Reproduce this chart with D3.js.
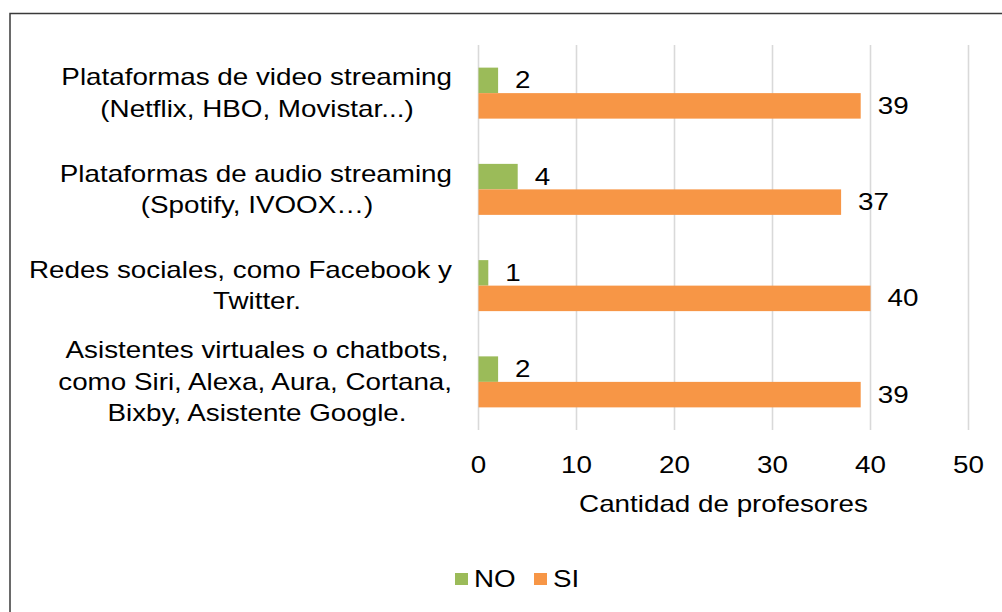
<!DOCTYPE html>
<html>
<head>
<meta charset="utf-8">
<script src="https://cdn.jsdelivr.net/npm/d3@7"></script>
<style>
  body { margin: 0; background: #fff; }
  svg { display: block; }
  text { font-family: "Liberation Sans", Arial, sans-serif; fill: #000; }
</style>
</head>
<body>
<div id="chart"></div>
<script>
// categories (each label split into its lines) and values per series
var categories = [
    ["Plataformas de video streaming", "(Netflix, HBO, Movistar...)"],
    ["Plataformas de audio streaming", "(Spotify, IVOOX…)"],
    ["Redes sociales, como Facebook y", "Twitter."],
    ["Asistentes virtuales o chatbots,", "como Siri, Alexa, Aura, Cortana,", "Bixby, Asistente Google."]
];
var series = ["NO", "SI"];
var noValues = [2, 4, 1, 2];
var siValues = [39, 37, 40, 39];
var xTicks = [0, 10, 20, 30, 40, 50];
var axisTitle = "Cantidad de profesores";

var colors = { NO: "#9BBB59", SI: "#F79646" };

var width = 1002, height = 612;
var fs = 23;       // font size
var sx = 1.208;    // the picture is stretched sideways

var svg = d3.select("#chart").append("svg")
    .attr("width", width)
    .attr("height", height);

// outer frame
svg.append("rect")
    .attr("x", 10).attr("y", 13.5)
    .attr("width", 1200).attr("height", 800)
    .attr("fill", "none")
    .attr("stroke", "#3a3a3a")
    .attr("stroke-width", 1.5);

var xScale = d3.scaleLinear().domain([0, 50]).range([478.5, 968.5]);
var yScale = d3.scaleBand().domain(d3.range(categories.length)).range([45, 430]);
var inner = d3.scaleBand().domain(series).range([0, 51]);
var off = (yScale.bandwidth() - 51) / 2;

// put a stretched text at x,y
function label(g, str, x, y, anchor) {
    return g.append("text")
        .attr("transform", "translate(" + x + "," + y + ") scale(" + sx + ",1)")
        .attr("text-anchor", anchor || "start")
        .attr("font-size", fs)
        .text(str);
}

// gridlines
svg.append("g").selectAll("line")
    .data(xTicks)
    .join("line")
    .attr("x1", d => xScale(d)).attr("x2", d => xScale(d))
    .attr("y1", 45).attr("y2", 430)
    .attr("stroke", "#D9D9D9")
    .attr("stroke-width", 1.6);

// tick labels
var tickG = svg.append("g");
xTicks.forEach(function(t) {
    label(tickG, t, xScale(t), 473, "middle");
});

// axis title
label(svg, axisTitle, xScale(25), 512, "middle");

// bars
var rows = categories.map(function(c, i) {
    return { i: i, NO: noValues[i], SI: siValues[i] };
});
var barG = svg.append("g");
rows.forEach(function(r) {
    series.forEach(function(s) {
        var y = yScale(r.i) + off + inner(s);
        barG.append("rect")
            .attr("x", xScale(0))
            .attr("y", y)
            .attr("width", xScale(r[s]) - xScale(0))
            .attr("height", inner.bandwidth())
            .attr("fill", colors[s]);
        label(barG, r[s], xScale(r[s]) + 17, y + inner.bandwidth() / 2 + 8, "start");
    });
});

// category labels, centred lines that do not pass the right edge
var catG = svg.append("g");
var lh = 31.5;
categories.forEach(function(lines, i) {
    var cy = yScale(i) + yScale.bandwidth() / 2;
    var y0 = cy - (lines.length - 1) * lh / 2 + 8;
    lines.forEach(function(line, j) {
        var t = label(catG, line, 0, y0 + j * lh, "middle");
        var w = t.node().getComputedTextLength() * sx;
        var cx = Math.min(257, 452 - w / 2);
        t.attr("transform", "translate(" + cx + "," + (y0 + j * lh) + ") scale(" + sx + ",1)");
    });
});

// legend
var legG = svg.append("g");
var legX = [455, 534];
series.forEach(function(s, i) {
    legG.append("rect")
        .attr("x", legX[i]).attr("y", 573)
        .attr("width", 13).attr("height", 12)
        .attr("fill", colors[s]);
    label(legG, s, legX[i] + 19, 587, "start");
});
</script>
</body>
</html>
